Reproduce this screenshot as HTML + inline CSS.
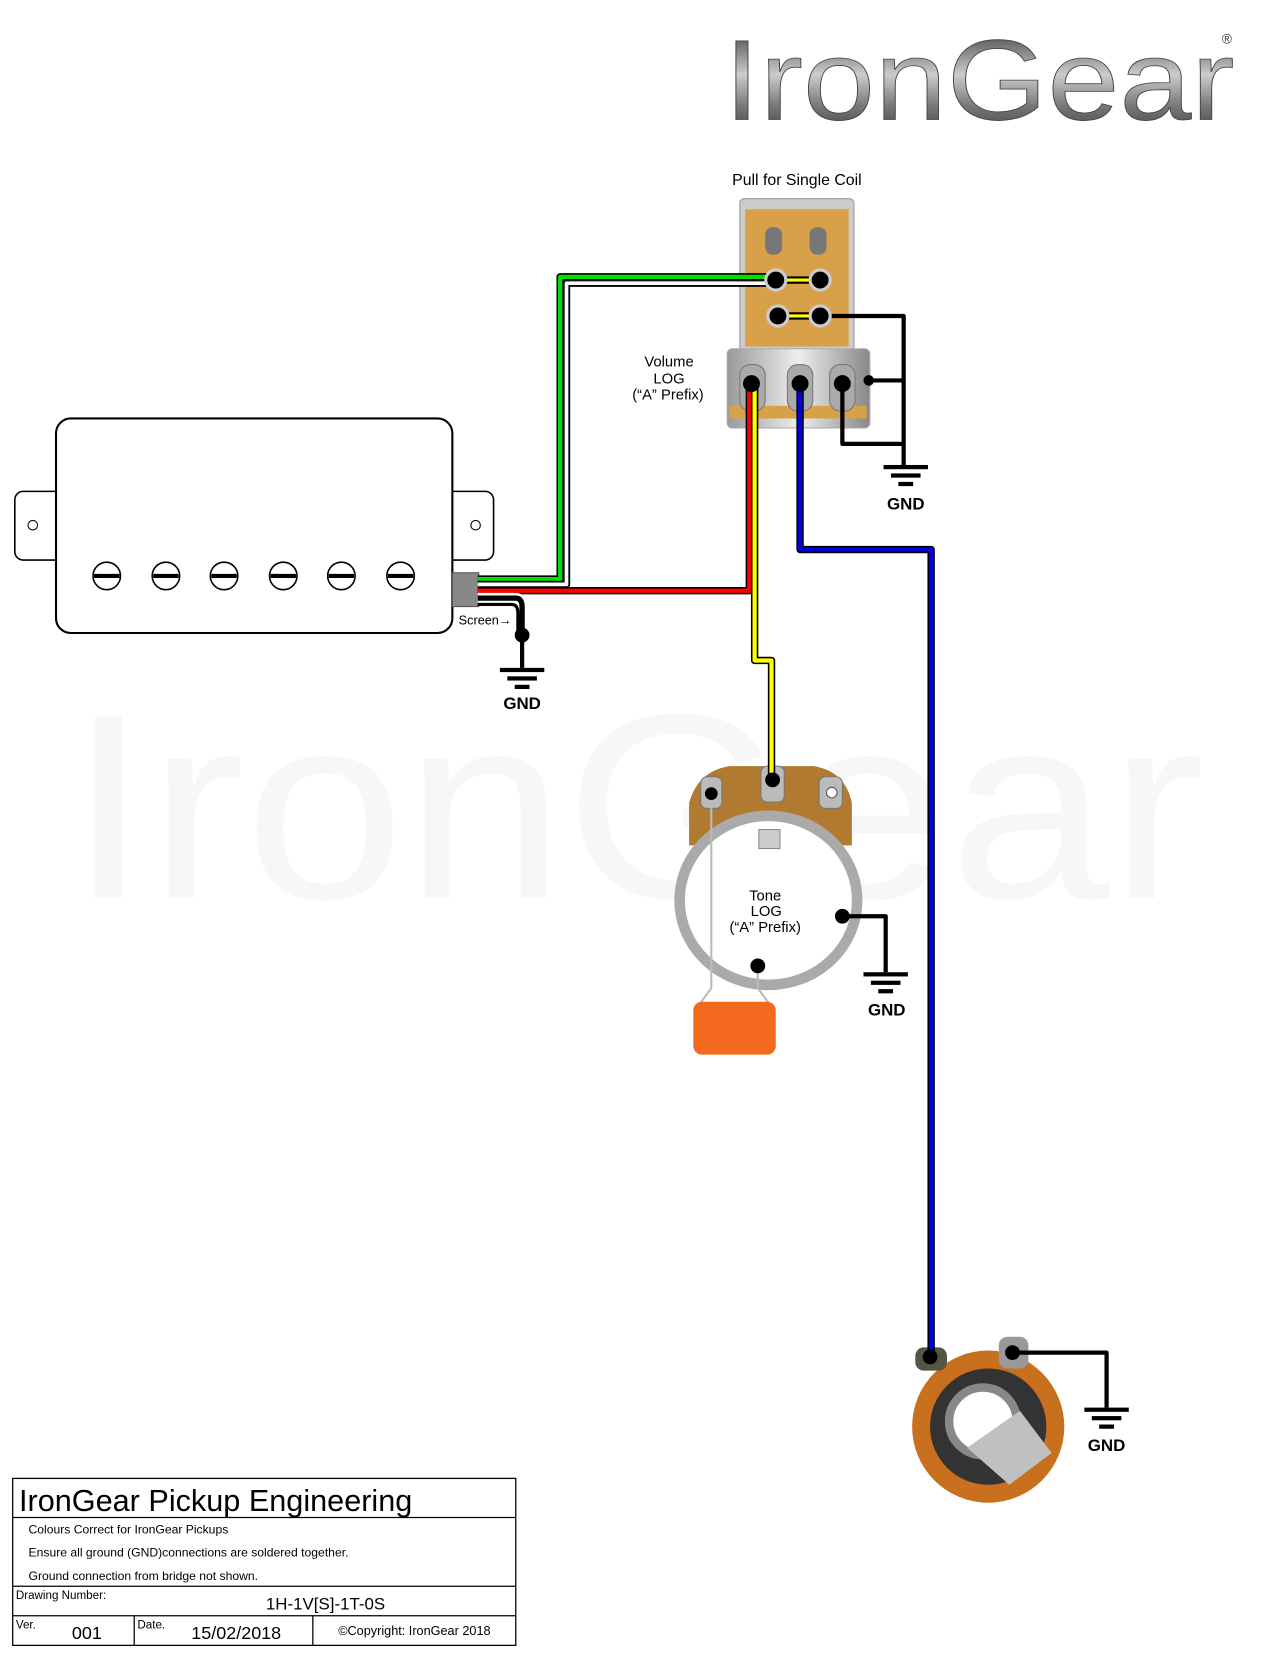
<!DOCTYPE html>
<html><head><meta charset="utf-8"><style>
html,body{margin:0;padding:0;background:#fff;}
svg{display:block;}
text{font-family:"Liberation Sans","DejaVu Sans",sans-serif;}
</style></head><body>
<svg width="1263" height="1657" viewBox="0 0 1195 1568" preserveAspectRatio="none" xmlns="http://www.w3.org/2000/svg">
<defs>
<linearGradient id="chrome" x1="0" y1="0" x2="0" y2="1">
<stop offset="0" stop-color="#222"/><stop offset="0.45" stop-color="#ccc"/><stop offset="0.7" stop-color="#777"/><stop offset="1" stop-color="#333"/>
</linearGradient>
<linearGradient id="metal" x1="0" y1="0" x2="1" y2="0">
<stop offset="0" stop-color="#999"/><stop offset="0.5" stop-color="#eee"/><stop offset="1" stop-color="#888"/>
</linearGradient>
<g id="g" fill="#000"><rect x="-21" y="0" width="42" height="4"/><rect x="-14" y="8" width="28" height="4"/><rect x="-7" y="16" width="14" height="4"/></g>
</defs>
<!-- watermark -->
<text x="65" y="850" font-size="250" fill="#f7f7f7" textLength="1075" lengthAdjust="spacingAndGlyphs">IronGear</text>
<!-- logo -->
<text x="685" y="113" font-size="108" fill="url(#chrome)" stroke="#444" stroke-width="0.8" textLength="483" lengthAdjust="spacingAndGlyphs">IronGear</text>
<text x="1156" y="41" font-size="13" fill="#333">®</text>

<!-- pickup -->
<rect x="14" y="465" width="60" height="65" rx="8" fill="#fff" stroke="#000" stroke-width="1.5"/>
<rect x="405" y="465" width="62" height="65" rx="8" fill="#fff" stroke="#000" stroke-width="1.5"/>
<circle cx="31" cy="497" r="4.5" fill="#fff" stroke="#000"/>
<circle cx="450" cy="497" r="4.5" fill="#fff" stroke="#000"/>
<rect x="53" y="396" width="375" height="203" rx="14" fill="#fff" stroke="#000" stroke-width="2"/>
<g stroke="#000" fill="#fff">
<g id="p"><circle cx="101" cy="545" r="13" stroke-width="1.5"/><line x1="89" y1="545" x2="113" y2="545" stroke-width="4"/></g>
<use href="#p" x="56"/><use href="#p" x="111"/><use href="#p" x="167"/><use href="#p" x="222"/><use href="#p" x="278"/>
</g>
<rect x="428" y="542" width="25" height="32" fill="#888" stroke="#555"/>

<!-- volume pot / switch -->
<rect x="700" y="188" width="108" height="148" rx="4" fill="#ccc" stroke="#999"/>
<rect x="705" y="198" width="98" height="130" fill="#d9a04a"/>
<g fill="#777"><rect x="724" y="215" width="16" height="26" rx="7"/><rect x="766" y="215" width="16" height="26" rx="7"/></g>
<rect x="688" y="330" width="135" height="75" rx="5" fill="url(#metal)" stroke="#aaa"/>
<rect x="690" y="384" width="130" height="12" fill="#d9a04a"/>
<g fill="#aaa" stroke="#777"><rect x="700" y="345" width="24" height="44" rx="10"/><rect x="745" y="345" width="24" height="44" rx="10"/><rect x="785" y="345" width="24" height="44" rx="10"/></g>

<!-- tone pot -->
<path d="M652 760 Q660 730 690 725 L770 725 Q800 730 806 760 L806 800 L652 800 Z" fill="#b07a30"/>
<ellipse cx="727" cy="852" rx="84" ry="80" fill="#fff" stroke="#aaa" stroke-width="10"/>
<rect x="718" y="785" width="20" height="18" fill="#ccc" stroke="#888"/>
<rect x="663" y="735" width="20" height="30" rx="6" fill="#bbb" stroke="#777"/>
<rect x="720" y="725" width="22" height="34" rx="6" fill="#bbb" stroke="#777"/>
<rect x="775" y="735" width="22" height="30" rx="6" fill="#bbb" stroke="#777"/>

<!-- jack -->
<circle cx="935" cy="1350" r="72" fill="#c8701e"/>
<circle cx="935" cy="1350" r="55" fill="#333"/>
<circle cx="930" cy="1345" r="32" fill="#fff" stroke="#888" stroke-width="8"/>
<path d="M915 1370 L965 1335 L995 1375 L955 1405 Z" fill="#c0c0c0"/>
<rect x="866" y="1275" width="30" height="22" rx="8" fill="#554" />
<rect x="945" y="1265" width="28" height="30" rx="8" fill="#999"/>

<!-- wires -->
<g fill="none" stroke-linejoin="round">
<path d="M452 548 H530 V262 H735" stroke="#000" stroke-width="7"/>
<path d="M452 548 H530 V262 H735" stroke="#00e000" stroke-width="4"/>
<path d="M452 553 H536 V268 H735" stroke="#000" stroke-width="7"/>
<path d="M452 553 H536 V268 H735" stroke="#fff" stroke-width="3.5"/>
<path d="M452 559 H709 V365" stroke="#000" stroke-width="7"/>
<path d="M452 559 H709 V365" stroke="#f00" stroke-width="4"/>
<path d="M714 365 V625 H730 V738" stroke="#000" stroke-width="7"/>
<path d="M714 365 V625 H730 V738" stroke="#ff0" stroke-width="4"/>
<path d="M757 365 V520 H881 V1285" stroke="#000" stroke-width="7"/>
<path d="M757 365 V520 H881 V1285" stroke="#0000e0" stroke-width="4"/>
<path d="M452 566 H488 Q494 566 494 575 V600" stroke="#fff" stroke-width="10"/>
<path d="M452 566 H488 Q494 566 494 575 V600" stroke="#000" stroke-width="5"/>
<path d="M452 572 H484 Q490 572 490 580 V600" stroke="#000" stroke-width="3"/>
<path d="M494 600 V632" stroke="#000" stroke-width="4"/>
<path d="M776 299 H855 V440 M797 362 V420 H855 M818 360 H855" stroke="#000" stroke-width="4"/>
<path d="M797 867 H838 V920" stroke="#000" stroke-width="4"/>
<path d="M958 1280 H1047 V1332" stroke="#000" stroke-width="4"/>
<line x1="735" y1="265" x2="775" y2="265" stroke="#000" stroke-width="7"/>
<line x1="735" y1="265" x2="775" y2="265" stroke="#ff0" stroke-width="3"/>
<line x1="735" y1="299" x2="775" y2="299" stroke="#000" stroke-width="7"/>
<line x1="735" y1="299" x2="775" y2="299" stroke="#ff0" stroke-width="3"/>
<path d="M673 752 V935 L662 950 M717 914 V935 L728 950" stroke="#bbb" stroke-width="2"/>
</g>
<rect x="656" y="948" width="78" height="50" rx="8" fill="#f36a1e"/>

<!-- dots -->
<g fill="#ccc"><circle cx="734" cy="265" r="11"/><circle cx="776" cy="265" r="11"/><circle cx="736" cy="299" r="11"/><circle cx="776" cy="299" r="11"/></g>
<g fill="#000"><circle cx="734" cy="265" r="8"/><circle cx="776" cy="265" r="8"/><circle cx="736" cy="299" r="8"/><circle cx="776" cy="299" r="8"/>
<circle cx="711" cy="363" r="8"/><circle cx="757" cy="363" r="8"/><circle cx="797" cy="363" r="8"/><circle cx="822" cy="360" r="5"/>
<circle cx="494" cy="601" r="7"/>
<circle cx="673" cy="751" r="6"/><circle cx="731" cy="738" r="7"/><circle cx="797" cy="867" r="7"/><circle cx="717" cy="914" r="7"/>
<circle cx="880" cy="1284" r="7"/><circle cx="958" cy="1280" r="7"/></g>
<circle cx="787" cy="750" r="5" fill="#fff" stroke="#555"/>

<text x="434" y="591" font-size="12" fill="#000">Screen→</text>
<text x="754" y="175" font-size="15" text-anchor="middle">Pull for Single Coil</text>
<text x="633" y="347" font-size="14" text-anchor="middle">Volume</text>
<text x="633" y="363" font-size="14" text-anchor="middle">LOG</text>
<text x="632" y="378" font-size="14" text-anchor="middle">(“A” Prefix)</text>
<text x="724" y="852" font-size="14" text-anchor="middle">Tone</text>
<text x="725" y="867" font-size="14" text-anchor="middle">LOG</text>
<text x="724" y="882" font-size="14" text-anchor="middle">(“A” Prefix)</text>

<!-- GND symbols -->
<use href="#g" x="494" y="632"/><use href="#g" x="857" y="440"/><use href="#g" x="838" y="920"/><use href="#g" x="1047" y="1332"/>
<g font-size="16" font-weight="bold" text-anchor="middle">
<text x="494" y="671">GND</text><text x="857" y="482">GND</text><text x="839" y="961">GND</text><text x="1047" y="1373">GND</text>
</g>

<!-- title block -->
<g fill="none" stroke="#000" stroke-width="1.2">
<rect x="12" y="1399" width="476" height="158"/>
<line x1="12" y1="1436" x2="488" y2="1436"/>
<line x1="12" y1="1501" x2="488" y2="1501"/>
<line x1="12" y1="1529" x2="488" y2="1529"/>
<line x1="127" y1="1529" x2="127" y2="1557"/>
<line x1="296" y1="1529" x2="296" y2="1557"/>
</g>
<text x="18" y="1430" font-size="29">IronGear Pickup Engineering</text>
<g font-size="11.5"><text x="27" y="1451">Colours Correct for IronGear Pickups</text>
<text x="27" y="1473">Ensure all ground (GND)connections are soldered together.</text>
<text x="27" y="1495">Ground connection from bridge not shown.</text>
<text x="15" y="1513" font-size="11">Drawing Number:</text>
<text x="15" y="1541" font-size="11">Ver.</text>
<text x="130" y="1541" font-size="11">Date.</text></g>
<text x="308" y="1523" font-size="16" text-anchor="middle">1H-1V[S]-1T-0S</text>
<text x="68" y="1551" font-size="17">001</text>
<text x="181" y="1551" font-size="17">15/02/2018</text>
<text x="320" y="1547" font-size="12">©Copyright: IronGear 2018</text>
</svg>
</body></html>
